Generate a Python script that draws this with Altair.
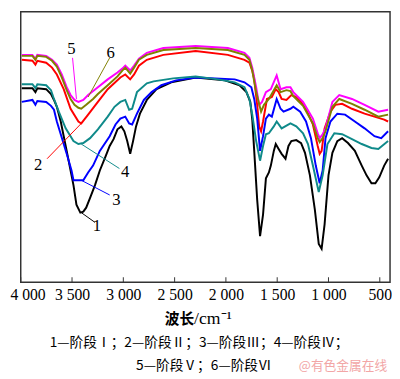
import altair as alt
import pandas as pd

# (wavenumber cm^-1, transmittance a.u.)
curve1 = [(3990,198),(3886,198),(3857,194),(3838,198),(3752,197),(3705,192),(3676,186),(3648,179),(3610,164),(3581,149),
          (3533,124),(3486,99),(3457,79),(3419,71),(3390,72),(3362,76),(3324,86),(3276,99),(3229,114),(3171,129),
          (3133,139),(3095,146),(3057,156),(3019,159),(2990,154),(2962,144),(2933,131),(2905,144),(2876,159),(2838,172),
          (2771,186),(2676,197),(2533,204),(2295,209),(2010,206),(1867,201),(1800,194),(1762,184),(1743,166),(1724,134),
          (1695,84),(1667,47),(1638,69),(1610,106),(1581,112),(1562,119),(1533,134),(1514,141),(1486,136),(1457,131),
          (1419,126),(1390,139),(1362,144),(1314,145),(1267,142),(1229,132),(1181,109),(1133,74),(1095,39),(1067,34),
          (1038,59),(1000,109),(962,132),(914,144),(867,147),(810,142),(743,134),(676,119),(629,109),(581,101),
          (543,101),(505,107),(457,119),(419,126)]

curve2_wn = [3990,3886,3857,3838,3752,3695,3648,3581,3514,3438,3410,3343,3248,3152,3029,2981,2933,2895,2848,2771,
             2610,2295,1981,1819,1771,1743,1724,1695,1676,1657,1638,1600,1552,1514,1486,1457,1410,1362,1314,1267,
             1219,1152,1105,1086,1067,1038,981,933,867,771,648,552,457,419]
curve2_t = [227,226,222,226,224,219,212,197,177,164,162,171,184,197,209,212,207,212,221,227,
            232,236,232,227,224,216,207,181,159,154,164,187,189,197,194,187,186,191,189,184,
            177,161,139,131,134,157,174,181,182,177,172,169,166,164]

curve3 = [(3990,184),(3886,186),(3857,181),(3838,185),(3752,184),(3705,180),(3676,176),(3648,164),(3610,151),(3552,131),
          (3505,114),(3486,104),(3438,104),(3390,104),(3343,112),(3295,119),(3229,134),(3133,149),(3076,161),(3029,167),
          (2981,169),(2943,162),(2914,161),(2867,172),(2800,186),(2724,194),(2629,201),(2486,206),(2295,209),(1914,207),
          (1819,204),(1752,199),(1724,187),(1695,167),(1667,134),(1638,149),(1610,167),(1581,171),(1552,169),(1505,187),
          (1467,177),(1438,174),(1371,177),(1343,179),(1276,174),(1219,164),(1171,147),(1124,119),(1086,101),(1057,114),
          (1029,147),(981,164),(914,172),(838,171),(743,164),(648,157),(552,149),(486,147),(419,154)]

curve4_wn = [3990,3886,3857,3838,3752,3705,3676,3629,3562,3486,3438,3390,3324,3248,3152,3086,3029,2981,2943,2914,
             2867,2771,2705,2514,2295,2076,1914,1819,1771,1743,1705,1667,1638,1610,1581,1533,1505,1457,1371,1314,
             1248,1200,1152,1095,1057,1010,943,867,771,676,581,514,419]
curve4_t = [202,202,198,202,201,196,187,174,157,144,141,142,147,156,169,179,184,186,176,177,
            194,203,205,208,210,207,204,199,187,171,144,124,139,151,152,159,164,157,162,159,
            152,141,119,92,109,141,152,151,146,141,137,136,144]

curve56_wn = [3990,3886,3857,3838,3752,3695,3648,3600,3552,3514,3476,3438,3390,3343,3248,3152,3057,3010,2981,2933,
              2895,2848,2771,2610,2295,1981,1819,1771,1743,1705,1676,1648,1610,1562,1505,1467,1410,1371,1343,1248,
              1152,1105,1086,1057,1029,962,895,771,648,514,419]
curve5_t = [232,232,228,232,231,227,222,212,199,191,186,184,186,191,199,207,214,218,221,216,
            221,228,234,239,241,239,234,229,219,199,181,184,194,197,211,197,199,199,194,184,
            167,152,147,151,157,184,191,187,181,174,176]

curve6_wn = [3990,3886,3857,3838,3752,3695,3648,3600,3552,3514,3476,3438,3410,3362,3295,3248,3152,3057,3010,2981,
             2933,2895,2848,2771,2610,2295,1981,1819,1771,1743,1705,1657,1629,1581,1505,1467,1410,1371,1343,1248,
             1152,1105,1086,1057,1029,962,895,771,648,514,419]
curve6_t = [231,231,227,231,230,226,220,209,196,187,181,178,177,181,187,192,201,210,216,219,
            213,219,227,232,237,239,237,232,227,216,194,174,181,187,201,194,196,195,190,180,
            162,147,143,147,154,179,187,182,176,169,171]

series_names = ["1", "2", "3", "4", "5", "6"]
series_colors = ["#000000", "#ff0000", "#0000ff", "#0f8a8a", "#ff00ff", "#808000"]

# leader lines: (series, wn start, t start, wn end, t end)
leaders = [("1", 3410, 71, 3276, 61), ("2", 3743, 126, 3410, 162), ("3", 3410, 104, 3133, 89),
           ("4", 3410, 141, 3038, 116), ("5", 3495, 229, 3457, 187), ("6", 3133, 229, 3343, 189)]
# curve number labels: (text, wn, t)
labels = [("1", 3257, 57), ("2", 3829, 119), ("3", 3067, 84), ("4", 2981, 112), ("5", 3505, 238), ("6", 3124, 234)]

tick_values = [4000, 3500, 3000, 2500, 2000, 1500, 1000, 500]
x_title_cn = "波长"
x_title_unit = "/cm⁻¹"
caption_1 = "1—阶段Ⅰ；2—阶段Ⅱ；3—阶段Ⅲ；4—阶段Ⅳ；"
caption_2 = "5—阶段Ⅴ；6—阶段Ⅵ"
watermark = "@有色金属在线"

all_curves = [
    curve1,
    list(zip(curve2_wn, curve2_t)),
    curve3,
    list(zip(curve4_wn, curve4_t)),
    list(zip(curve56_wn, curve5_t)),
    list(zip(curve6_wn, curve6_t)),
]
rows = []
for name, pts in zip(series_names, all_curves):
    for i, (w, t) in enumerate(pts):
        rows.append({"s": name, "wn": w, "t": t, "i": i})
df = pd.DataFrame(rows)

x_scale = alt.Scale(domain=[400, 4000], reverse=True, nice=False, zero=False)
y_scale = alt.Scale(domain=[0, 276], nice=False, zero=False)
color_scale = alt.Scale(domain=series_names, range=series_colors)

lines = alt.Chart(df).mark_line(strokeWidth=2, clip=True).encode(
    x=alt.X("wn:Q", scale=x_scale, axis=alt.Axis(
        values=tick_values, title=None,
        labelExpr="replace(format(datum.value, ','), ',', ' ')",
        labelFont="Liberation Serif", labelFontSize=16, labelColor="black",
        labelOffset={"condition": {"test": "datum.value == 4000", "value": 7}, "value": 0},
        tickSize=0, domain=False, grid=False, labelPadding=5,
        labelOverlap=False, labelFlush=False)),
    y=alt.Y("t:Q", scale=y_scale, axis=None),
    color=alt.Color("s:N", scale=color_scale, legend=None),
    order="i:Q",
)

lead_df = pd.DataFrame(leaders, columns=["s", "w1", "t1", "w2", "t2"])
lead = alt.Chart(lead_df).mark_rule(strokeWidth=1).encode(
    x=alt.X("w1:Q", scale=x_scale), y=alt.Y("t1:Q", scale=y_scale),
    x2="w2:Q", y2="t2:Q",
    color=alt.Color("s:N", scale=color_scale, legend=None),
)

lab_df = pd.DataFrame(labels, columns=["text", "wn", "t"])
labs = alt.Chart(lab_df).mark_text(font="Liberation Serif", fontSize=17, color="black",
                                   align="center", baseline="middle").encode(
    x=alt.X("wn:Q", scale=x_scale), y=alt.Y("t:Q", scale=y_scale), text="text:N")

tick_df = pd.DataFrame({"tv": tick_values})
ticks = alt.Chart(tick_df).mark_rule(color="#333333", strokeWidth=1).encode(
    x=alt.X("tv:Q", scale=x_scale), y=alt.value(276), y2=alt.value(271))

ann = pd.DataFrame({"a": [0]})
t_cn = alt.Chart(ann).mark_text(text=x_title_cn, font="Noto Sans CJK SC", fontWeight="bold",
                                fontSize=15, align="right", baseline="middle", color="black").encode(
    x=alt.value(177), y=alt.value(314))
t_unit = alt.Chart(ann).mark_text(text=x_title_unit, font="Liberation Serif",
                                  fontSize=18, align="left", baseline="middle", color="black").encode(
    x=alt.value(177), y=alt.value(314))
cap1 = alt.Chart(ann).mark_text(text=caption_1, font="Noto Sans CJK SC", fontSize=14,
                                align="center", baseline="middle", color="black").encode(
    x=alt.value(182), y=alt.value(338))
cap2 = alt.Chart(ann).mark_text(text=caption_2, font="Noto Sans CJK SC", fontSize=14,
                                align="center", baseline="middle", color="black").encode(
    x=alt.value(187), y=alt.value(362))
wm = alt.Chart(ann).mark_text(text=watermark, font="Noto Sans CJK SC", fontSize=13,
                              align="center", baseline="middle", color="#f2a6a6").encode(
    x=alt.value(329), y=alt.value(362))

chart = alt.layer(lines, lead, labs, ticks, t_cn, t_unit, cap1, cap2, wm).properties(
    width=377, height=276,
    autosize=alt.AutoSizeParams(type="none"),
    padding={"left": 13, "top": 0, "right": 2, "bottom": 95},
).configure_view(stroke="#333333", strokeWidth=1.5)

chart.save("out.html", embed_options={"renderer": "svg", "actions": False})
